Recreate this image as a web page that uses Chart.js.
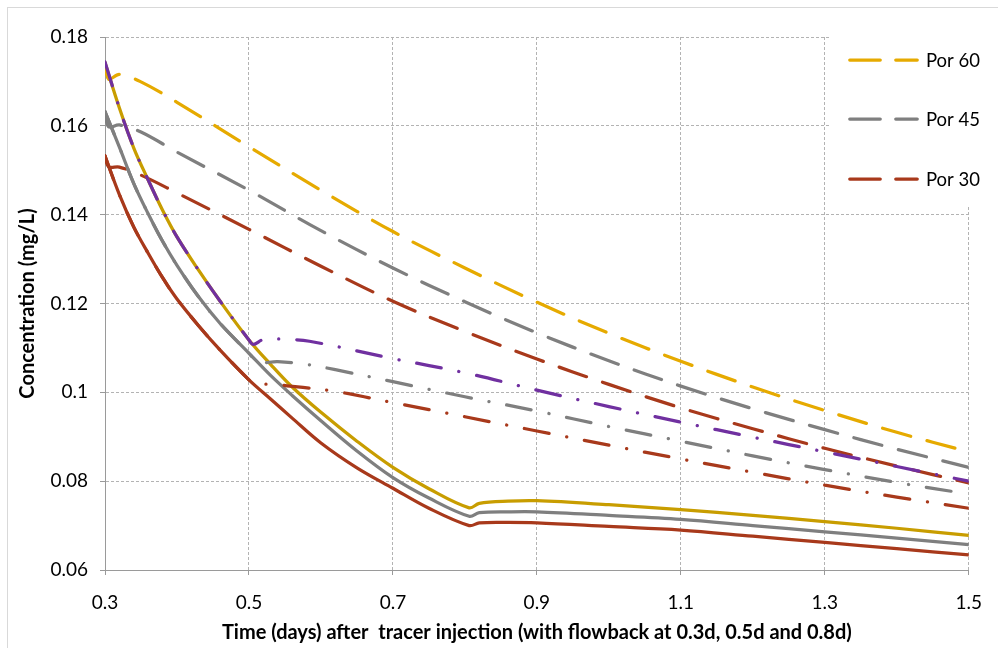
<!DOCTYPE html>
<html>
<head>
<meta charset="utf-8">
<script src="https://cdn.jsdelivr.net/npm/chart.js@4.4.1/dist/chart.umd.min.js"></script>
<style>
  html, body { margin: 0; padding: 0; background: #fff; }
  canvas { display: block; }
</style>
</head>
<body>
<canvas id="chart" width="998" height="648"></canvas>
<script>
// tick values
const xTicks = [0.3, 0.5, 0.7, 0.9, 1.1, 1.3, 1.5]
const yTicks = [0.06, 0.08, 0.1, 0.12, 0.14, 0.16, 0.18]

// no flowback (dashed)
const tDashed = [0.3, 0.305, 0.32, 0.35, 0.4, 0.5, 0.6, 0.7, 0.8, 0.9, 1.0, 1.1, 1.2, 1.3, 1.4, 1.5]
const por60 = [0.1742, 0.1705, 0.1716, 0.1699, 0.1653, 0.1553, 0.1455, 0.1362, 0.1280, 0.1203, 0.1133, 0.1070, 0.1012, 0.0959, 0.0910, 0.0866]
const por45 = [0.1632, 0.1598, 0.1602, 0.1586, 0.1541, 0.1455, 0.1364, 0.1280, 0.1204, 0.1134, 0.1071, 0.1014, 0.0963, 0.0916, 0.0872, 0.0831]
const por30 = [0.1532, 0.1508, 0.1507, 0.1489, 0.1449, 0.1367, 0.1284, 0.1205, 0.1137, 0.1075, 0.1018, 0.0965, 0.0918, 0.0874, 0.0834, 0.0796]

// flowback at 0.3, 0.5 and 0.8 d (solid)
const tSolid = [0.3, 0.32, 0.34, 0.36, 0.38, 0.4, 0.43, 0.46, 0.5, 0.53, 0.56, 0.6, 0.65, 0.7, 0.75, 0.806, 0.82, 0.86, 0.9, 1.0, 1.1, 1.2, 1.3, 1.4, 1.5]
const flow60 = [0.1742, 0.1640, 0.1550, 0.1478, 0.1410, 0.1350, 0.1275, 0.1205, 0.1118, 0.1063, 0.1012, 0.0955, 0.0890, 0.0831, 0.0783, 0.0740, 0.0750, 0.0755, 0.0756, 0.0747, 0.0736, 0.0723, 0.0709, 0.0694, 0.0678]
const flow45 = [0.1632, 0.1552, 0.1470, 0.1402, 0.1340, 0.1286, 0.1215, 0.1155, 0.1088, 0.1038, 0.0993, 0.0936, 0.0868, 0.0808, 0.0762, 0.0721, 0.0729, 0.0731, 0.0731, 0.0723, 0.0714, 0.0700, 0.0686, 0.0672, 0.0657]
const flow30 = [0.1532, 0.1445, 0.1372, 0.1313, 0.1258, 0.1210, 0.1150, 0.1095, 0.1028, 0.0985, 0.0942, 0.0886, 0.0830, 0.0784, 0.0739, 0.0700, 0.0706, 0.0707, 0.0706, 0.0698, 0.0690, 0.0676, 0.0662, 0.0648, 0.0634]

// flowback at 0.3 and 0.5 d (dash-dot)
const tPurple = [0.3, 0.32, 0.34, 0.36, 0.38, 0.4, 0.43, 0.46, 0.5, 0.506, 0.52, 0.543, 0.584, 0.7, 0.8, 0.9, 1.0, 1.1, 1.2, 1.3, 1.4, 1.5]
const dd60 = [0.1744, 0.1640, 0.1550, 0.1478, 0.1410, 0.1350, 0.1275, 0.1205, 0.1118, 0.1108, 0.1119, 0.1120, 0.1115, 0.1076, 0.1044, 0.1005, 0.0968, 0.0933, 0.0899, 0.0866, 0.0833, 0.0800]
const tGrayDD = [0.3, 0.32, 0.34, 0.36, 0.38, 0.4, 0.43, 0.46, 0.5, 0.512, 0.54, 0.58, 0.62, 0.7, 0.8, 0.9, 1.0, 1.1, 1.2, 1.3, 1.4, 1.5]
const dd45 = [0.1632, 0.1552, 0.1470, 0.1402, 0.1340, 0.1286, 0.1215, 0.1155, 0.1088, 0.1068, 0.1069, 0.1063, 0.1051, 0.1024, 0.0990, 0.0958, 0.0923, 0.0890, 0.0857, 0.0826, 0.0797, 0.0771]
const tRedDD = [0.3, 0.32, 0.34, 0.36, 0.38, 0.4, 0.43, 0.46, 0.5, 0.506, 0.531, 0.575, 0.617, 0.66, 0.7, 0.8, 0.9, 1.0, 1.1, 1.2, 1.3, 1.4, 1.5]
const dd30 = [0.1532, 0.1445, 0.1372, 0.1313, 0.1258, 0.1210, 0.1150, 0.1095, 0.1028, 0.1020, 0.1018, 0.1011, 0.1003, 0.0990, 0.0977, 0.0945, 0.0913, 0.0881, 0.0850, 0.0820, 0.0791, 0.0764, 0.0739]

const legendNames = ["Por 60", "Por 45", "Por 30"]

const YELLOW = "#e6aa00"
const GOLD = "#c89d00"
const GRAY = "#7f7f7f"
const RED = "#a8391b"
const PURPLE = "#7030a0"

const DASH = [29, 17]
const DASH_DOT = [25, 18, 0.1, 18]
const FONT = "Lato, 'Open Sans', sans-serif"

const pts = (t, v) => t.map((x, i) => ({ x: x, y: v[i] }))

function series(label, t, v, color, dash, order) {
  return {
    label: label,
    data: pts(t, v),
    borderColor: color,
    backgroundColor: color,
    borderWidth: 3.25,
    borderDash: dash,
    borderCapStyle: "round",
    pointRadius: 0,
    tension: 0.35,
    fill: false,
    order: order
  }
}

const datasets = [
  series(legendNames[0], tDashed, por60, YELLOW, DASH, 5),
  series(legendNames[1], tDashed, por45, GRAY, DASH, 5),
  series(legendNames[2], tDashed, por30, RED, DASH, 5),
  series("", tSolid, flow60, GOLD, [], 3),
  series("", tSolid, flow45, GRAY, [], 3),
  series("", tSolid, flow30, RED, [], 3),
  series("", tPurple, dd60, PURPLE, DASH_DOT, 0),
  series("", tGrayDD, dd45, GRAY, DASH_DOT, 1),
  series("", tRedDD, dd30, RED, DASH_DOT, 1)
]

// legend box drawn over the top right of the plot, plus the outer frame
const sideLegend = {
  id: "sideLegend",
  afterDraw(chart) {
    const ctx = chart.ctx
    ctx.save()
    ctx.fillStyle = "#fff"
    ctx.fillRect(829, 28, 169, 178)
    const rows = [60, 119, 179]
    for (let i = 0; i < 3; i++) {
      const ds = chart.data.datasets[i]
      ctx.beginPath()
      ctx.setLineDash([30.5, 15.5])
      ctx.lineCap = "round"
      ctx.lineWidth = ds.borderWidth
      ctx.strokeStyle = ds.borderColor
      ctx.moveTo(849.75, rows[i])
      ctx.lineTo(917.25, rows[i])
      ctx.stroke()
      ctx.setLineDash([])
      ctx.fillStyle = "#000"
      ctx.font = "18.5px " + FONT
      ctx.textBaseline = "middle"
      ctx.fillText(ds.label, 926, rows[i] + 1)
    }
    ctx.strokeStyle = "#d9d9d9"
    ctx.lineWidth = 1
    ctx.strokeRect(7.5, 7.5, 1100, 800)
    ctx.restore()
  }
}

new Chart(document.getElementById("chart"), {
  type: "line",
  data: { datasets: datasets },
  options: {
    responsive: false,
    animation: false,
    events: [],
    layout: { padding: { left: 8, top: 37, right: 28, bottom: 0 } },
    plugins: {
      legend: { display: false },
      tooltip: { enabled: false }
    },
    scales: {
      x: {
        type: "linear",
        min: 0.3,
        max: 1.5,
        afterBuildTicks: (s) => { s.ticks = xTicks.map(v => ({ value: v })) },
        afterFit: (s) => { s.height = 78 },
        ticks: {
          color: "#000",
          font: { family: FONT, size: 19 },
          padding: 16,
          maxRotation: 0,
          callback: (v) => String(v)
        },
        grid: { color: "#b3b3b3", tickLength: 5, tickColor: "#9a9a9a", tickBorderDash: [] },
        border: { color: "#9a9a9a", width: 1, dash: [3, 2] },
        title: {
          display: true,
          text: "Time (days) after  tracer injection (with flowback at 0.3d, 0.5d and 0.8d)",
          color: "#000",
          font: { family: FONT, size: 20, weight: "bold" },
          padding: { top: 0, bottom: 3 }
        }
      },
      y: {
        type: "linear",
        min: 0.06,
        max: 0.18,
        afterBuildTicks: (s) => { s.ticks = yTicks.map(v => ({ value: v })) },
        afterFit: (s) => { s.width = 97 },
        ticks: {
          color: "#000",
          font: { family: FONT, size: 19 },
          padding: 12,
          callback: (v) => String(v)
        },
        grid: { color: "#b3b3b3", tickLength: 5, tickColor: "#9a9a9a", tickBorderDash: [] },
        border: { color: "#9a9a9a", width: 1, dash: [3, 2] },
        title: {
          display: true,
          text: "Concentration (mg/L)",
          color: "#000",
          font: { family: FONT, size: 20, weight: "bold" },
          padding: { top: 8, bottom: 0 }
        }
      }
    }
  },
  plugins: [sideLegend]
})
</script>
</body>
</html>
